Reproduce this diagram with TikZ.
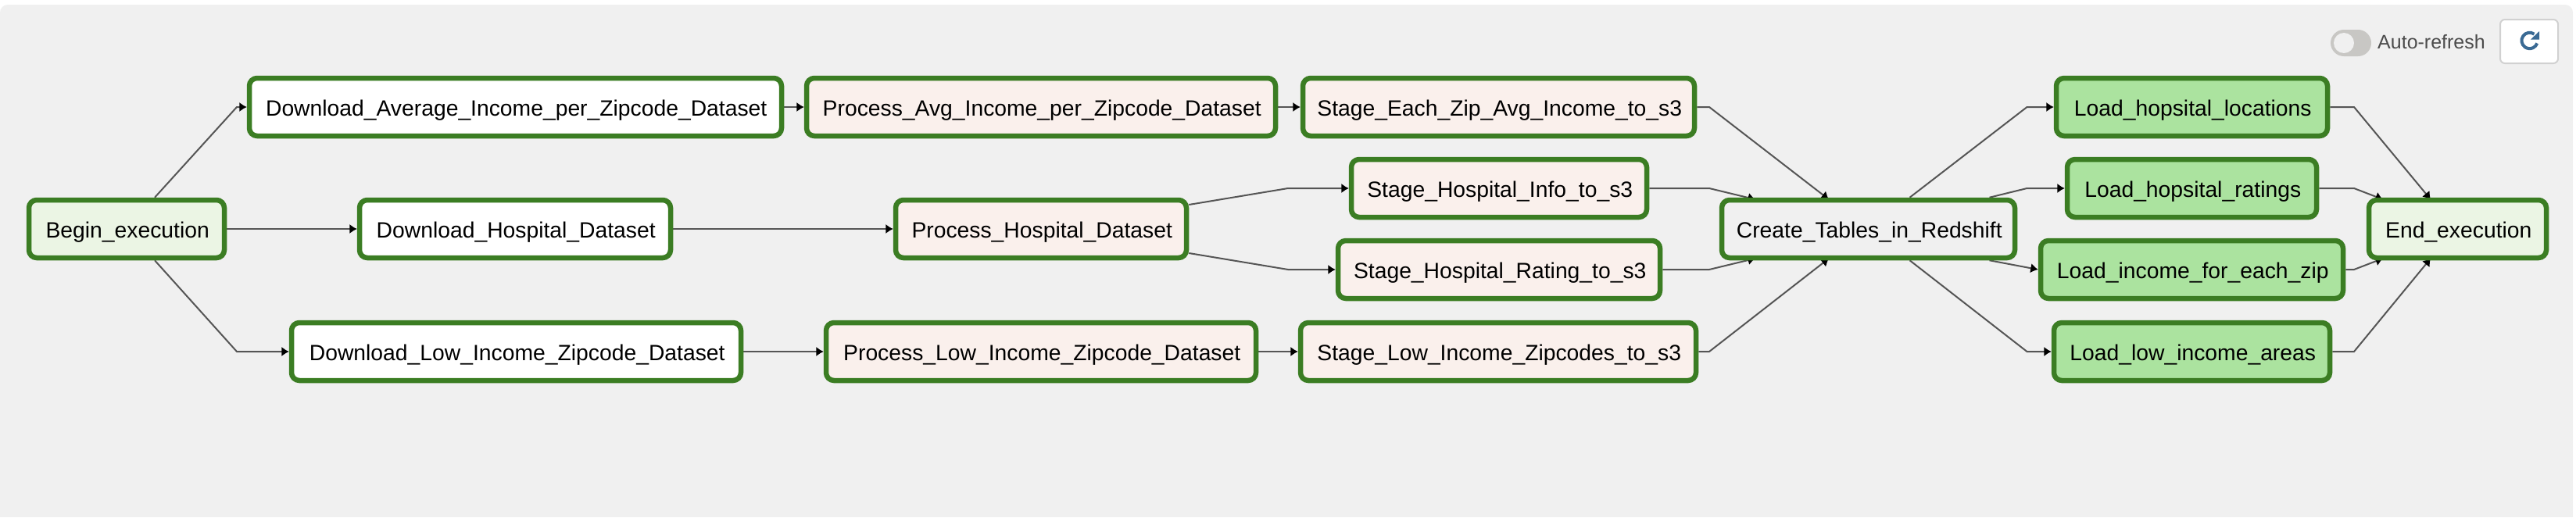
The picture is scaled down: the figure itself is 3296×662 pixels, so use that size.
\documentclass[tikz,border=0pt]{standalone}
\usepackage{fontspec}
\setmainfont{Liberation Sans}
\usetikzlibrary{arrows.meta,calc}
\definecolor{panelbg}{HTML}{F0F0F0}
\definecolor{taskgreen}{HTML}{3B7D23}
\definecolor{dummyfill}{HTML}{EBF5E4}
\definecolor{procfill}{HTML}{FAF0EC}
\definecolor{loadfill}{HTML}{ABE39F}
\definecolor{edgegrey}{HTML}{555555}
\definecolor{toggrey}{HTML}{C8C7C4}
\definecolor{iconblue}{HTML}{3A6A94}
\pgfdeclarelayer{backlayer}
\pgfdeclarelayer{edgelayer}
\pgfsetlayers{backlayer,edgelayer,main}
\tikzset{
  task/.style={draw=taskgreen,line width=6.5pt,rounded corners=10pt,inner sep=0pt,
    text=black,font=\fontsize{28.3}{34}\selectfont,text height=26pt,text depth=4pt,
    minimum height=74pt,execute at begin node={\hspace{2.5pt}}},
  dummytask/.style={task,fill=dummyfill},
  plaintask/.style={task,fill=white},
  proctask/.style={task,fill=procfill},
  greytask/.style={task,fill=panelbg},
  loadtask/.style={task,fill=loadfill},
  edge/.style={draw=edgegrey,line width=2pt,-{Latex[length=9.5pt,width=12.5pt,black]}}
}
\begin{document}
\begin{tikzpicture}[x=1pt,y=-1pt]
\useasboundingbox (0,0) rectangle (3296,662);
\begin{pgfonlayer}{backlayer}
\fill[white] (0,0) rectangle (3296,662);
\fill[panelbg,rounded corners=10pt] (0,6) rectangle (3292,680);
\fill[white] (0,662) rectangle (3296,690);
\end{pgfonlayer}
\node[dummytask,minimum width=250pt] (begin) at (162,293) {Begin\_execution};
\node[plaintask,minimum width=681pt] (davg) at (659.5,137) {Download\_Average\_Income\_per\_Zipcode\_Dataset};
\node[plaintask,minimum width=398pt] (dhosp) at (659,293) {Download\_Hospital\_Dataset};
\node[plaintask,minimum width=575pt] (dlow) at (660.5,450) {Download\_Low\_Income\_Zipcode\_Dataset};
\node[proctask,minimum width=600pt] (pavg) at (1332,137) {Process\_Avg\_Income\_per\_Zipcode\_Dataset};
\node[proctask,minimum width=372pt] (phosp) at (1332,293) {Process\_Hospital\_Dataset};
\node[proctask,minimum width=550pt] (plow) at (1332,450) {Process\_Low\_Income\_Zipcode\_Dataset};
\node[proctask,minimum width=501pt] (seach) at (1917.5,137) {Stage\_Each\_Zip\_Avg\_Income\_to\_s3};
\node[proctask,minimum width=378pt] (sinfo) at (1918,241) {Stage\_Hospital\_Info\_to\_s3};
\node[proctask,minimum width=412pt] (srate) at (1918,345) {Stage\_Hospital\_Rating\_to\_s3};
\node[proctask,minimum width=506pt] (slow) at (1917,450) {Stage\_Low\_Income\_Zipcodes\_to\_s3};
\node[greytask,minimum width=375pt] (create) at (2390.5,293) {Create\_Tables\_in\_Redshift};
\node[loadtask,minimum width=347pt] (lloc) at (2804.5,137) {Load\_hopsital\_locations};
\node[loadtask,minimum width=319pt] (lrat) at (2804.5,241) {Load\_hopsital\_ratings};
\node[loadtask,minimum width=387pt] (linc) at (2804.5,345) {Load\_income\_for\_each\_zip};
\node[loadtask,minimum width=353pt] (llow) at (2804.5,450) {Load\_low\_income\_areas};
\node[dummytask,minimum width=227pt] (end) at (3144.5,293) {End\_execution};
% connectors, under the nodes so that slanted heads tuck behind the borders
\begin{pgfonlayer}{edgelayer}
\draw[edge] ([xshift=36pt]begin.north) -- (303,137) -- (davg.west);
\draw[edge] (begin.east) -- (dhosp.west);
\draw[edge] ([xshift=36pt]begin.south) -- (303,450) -- (dlow.west);
\draw[edge] (davg.east) -- (pavg.west);
\draw[edge] (pavg.east) -- (seach.west);
\draw[edge] (dhosp.east) -- (phosp.west);
\draw[edge] (dlow.east) -- (plow.west);
\draw[edge] (plow.east) -- (slow.west);
\draw[edge] ([yshift=31pt]phosp.east) -- (1648,241) -- (sinfo.west);
\draw[edge] ([yshift=-31pt]phosp.east) -- (1648,345) -- (srate.west);
\draw[edge] (seach.east) -- (2187,137) -- ([xshift=-50.5pt,yshift=-2.5pt]create.north);
\draw[edge] (sinfo.east) -- (2187,241) -- ([xshift=-144.5pt,yshift=-2.5pt]create.north);
\draw[edge] (srate.east) -- (2187,345) -- ([xshift=-144.5pt,yshift=2.5pt]create.south);
\draw[edge] (slow.east) -- (2187,450) -- ([xshift=-50.5pt,yshift=2.5pt]create.south);
\draw[edge] ([xshift=53pt]create.north) -- (2593.5,137) -- (lloc.west);
\draw[edge] ([xshift=155pt]create.north) -- (2593.5,241) -- (lrat.west);
\draw[edge] ([xshift=155pt]create.south) -- (linc.west);
\draw[edge] ([xshift=53pt]create.south) -- (2593.5,450) -- (llow.west);
\draw[edge] (lloc.east) -- (3012,137) -- ([xshift=-34.5pt,yshift=-2.5pt]end.north);
\draw[edge] (lrat.east) -- (3012,241) -- ([xshift=-95.5pt,yshift=-2.5pt]end.north);
\draw[edge] (linc.east) -- (3012,345) -- ([xshift=-95.5pt,yshift=2.5pt]end.south);
\draw[edge] (llow.east) -- (3012,450) -- ([xshift=-34.5pt,yshift=2.5pt]end.south);
\end{pgfonlayer}
% controls
\fill[toggrey,rounded corners=17pt] (2982,38) rectangle (3034,72);
\fill[panelbg] (2999,55) circle[radius=13pt];
\node[anchor=base west,inner sep=0pt,text=black!70,font=\fontsize{25}{30}\selectfont] (autolabel) at (3042,62) {Auto-refresh};
\draw[draw=black!18,fill=white,line width=2pt,rounded corners=6pt] (3199,25) rectangle (3273,81);
\draw[iconblue,line width=4pt] (3242.5,43.6) arc[start angle=55,end angle=340,radius=10.2pt];
\fill[iconblue] (3249,40) -- (3249,50.5) -- (3238,50.5) -- cycle;
\end{tikzpicture}
\end{document}
